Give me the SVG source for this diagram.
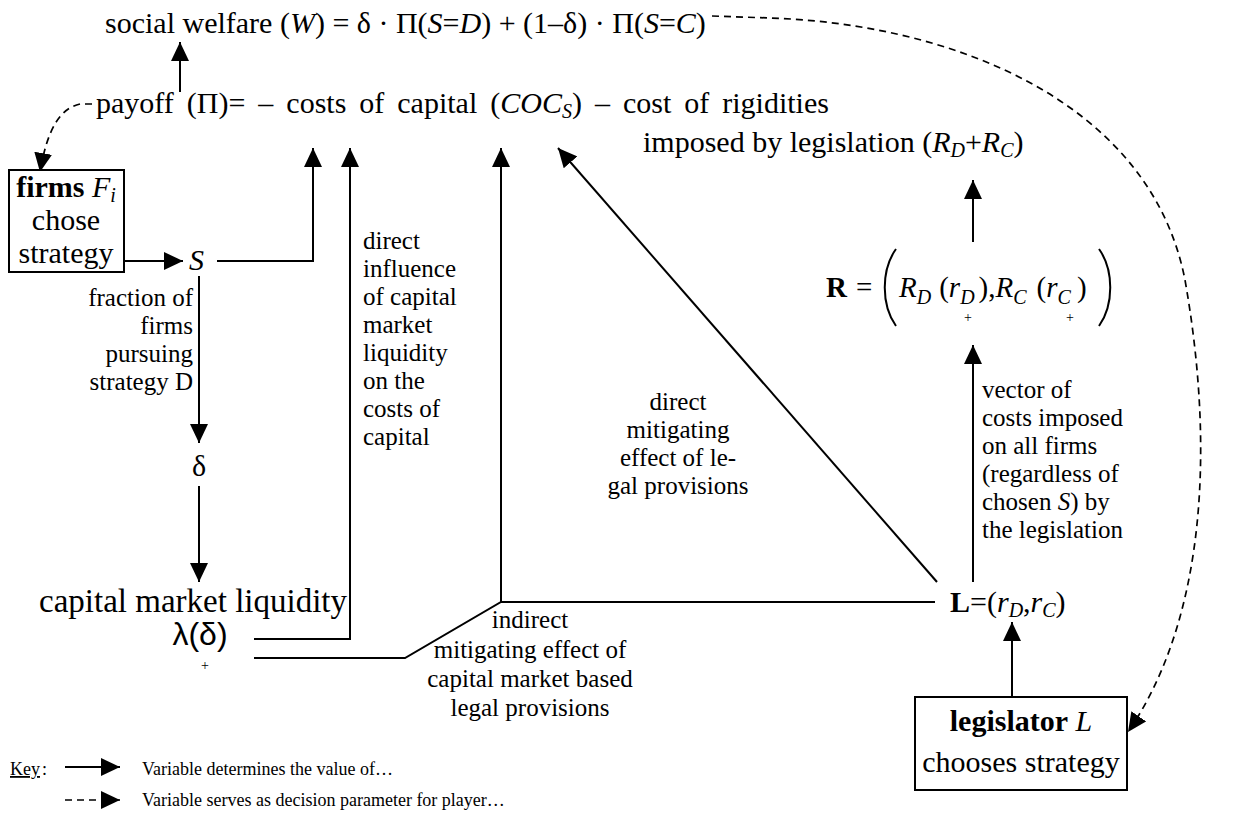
<svg xmlns="http://www.w3.org/2000/svg" width="1239" height="819" viewBox="0 0 1239 819">
<defs>
<marker id="ah" markerUnits="userSpaceOnUse" markerWidth="20" markerHeight="18" refX="19" refY="9" orient="auto"><path d="M0,0 L19,9 L0,18 z" fill="#000"/></marker>
<style>
text{font-family:"Liberation Serif","Times New Roman",serif;fill:#000}
.big{font-size:30px}
.mid{font-size:25px}
.sm{font-size:18px}
.sub{font-size:20px}
.i{font-style:italic}
.b{font-weight:bold}
.ln{stroke:#000;stroke-width:2;fill:none}
.ar{stroke:#000;stroke-width:2;fill:none;marker-end:url(#ah)}
.da{stroke:#000;stroke-width:1.7;fill:none;stroke-dasharray:7,5;marker-end:url(#ah)}
.box{fill:#fff;stroke:#000;stroke-width:2}
</style>
</defs>
<rect width="1239" height="819" fill="#fff"/>

<g id="connectors">
<line class="ar" x1="180" y1="92" x2="180" y2="42"/>
<path class="da" d="M712,16 L770,18 C950,24 1150,100 1185,280 C1215,450 1205,620 1128,732"/>
<path class="da" d="M92,104 L80,104 C62,108 48,125 40,172"/>
<line class="ar" x1="124" y1="261" x2="183" y2="261"/>
<path class="ar" d="M217,261 L313,261 L313,148"/>
<line class="ar" x1="199" y1="276" x2="199" y2="443"/>
<line class="ar" x1="199" y1="486" x2="199" y2="582"/>
<path class="ar" d="M254,639 L350,639 L350,148"/>
<path class="ln" d="M254,658 L405,658 L501,602 L935,602"/>
<line class="ar" x1="501" y1="602" x2="501" y2="148"/>
<line class="ar" x1="937" y1="582" x2="558" y2="148"/>
<line class="ar" x1="973" y1="582" x2="973" y2="345"/>
<line class="ar" x1="973" y1="242" x2="973" y2="180"/>
<line class="ar" x1="1012" y1="697" x2="1012" y2="622"/>
</g>

<g id="welfare">
<text class="big" x="105" y="33">social welfare (<tspan class="i">W</tspan>) = δ · Π(<tspan class="i">S</tspan>=<tspan class="i">D</tspan>) + (1–δ) · Π(<tspan class="i">S</tspan>=<tspan class="i">C</tspan>)</text>
</g>

<g id="payoff">
<text class="big" x="96" y="113" word-spacing="5.5">payoff (Π)= – costs of capital (<tspan class="i">COC<tspan class="sub" dy="5">S</tspan></tspan><tspan dy="-5">) – cost of rigidities</tspan></text>
<text class="big" x="643" y="152">imposed by legislation (<tspan class="i">R<tspan class="sub" dy="5">D</tspan></tspan><tspan dy="-5">+</tspan><tspan class="i">R<tspan class="sub" dy="5">C</tspan></tspan><tspan dy="-5">)</tspan></text>
</g>

<g id="firms">
<rect class="box" x="9" y="170" width="115" height="102"/>
<text class="big" x="66" y="197" text-anchor="middle"><tspan class="b">firms</tspan> <tspan class="i">F<tspan class="sub" dy="5">i</tspan></tspan></text>
<text class="big" x="66" y="230" text-anchor="middle">chose</text>
<text class="big" x="66" y="263" text-anchor="middle">strategy</text>
</g>

<g id="S"><text class="big i" x="189" y="270">S</text></g>

<g id="fraction-label">
<text class="mid" x="193" y="306" text-anchor="end">fraction of</text>
<text class="mid" x="193" y="334" text-anchor="end">firms</text>
<text class="mid" x="193" y="362" text-anchor="end">pursuing</text>
<text class="mid" x="193" y="390" text-anchor="end">strategy D</text>
</g>

<g id="delta"><text class="big" x="199" y="476" text-anchor="middle">δ</text></g>

<g id="liquidity">
<text x="347" y="612" text-anchor="end" style="font-size:33px">capital market liquidity</text>
<text x="200" y="645" text-anchor="middle" style="font-size:32px;font-family:'Liberation Sans','DejaVu Sans',sans-serif">λ(δ)</text>
<text x="205" y="670" text-anchor="middle" style="font-size:14px">+</text>
</g>

<g id="direct-influence-label">
<text class="mid" x="363" y="249">direct</text>
<text class="mid" x="363" y="277">influence</text>
<text class="mid" x="363" y="305">of capital</text>
<text class="mid" x="363" y="333">market</text>
<text class="mid" x="363" y="361">liquidity</text>
<text class="mid" x="363" y="389">on the</text>
<text class="mid" x="363" y="417">costs of</text>
<text class="mid" x="363" y="445">capital</text>
</g>

<g id="indirect-label">
<text class="mid" x="530" y="628" text-anchor="middle">indirect</text>
<text class="mid" x="530" y="658" text-anchor="middle">mitigating effect of</text>
<text class="mid" x="530" y="687" text-anchor="middle">capital market based</text>
<text class="mid" x="530" y="716" text-anchor="middle">legal provisions</text>
</g>

<g id="direct-mitigating-label">
<text class="mid" x="678" y="410" text-anchor="middle">direct</text>
<text class="mid" x="678" y="438" text-anchor="middle">mitigating</text>
<text class="mid" x="678" y="466" text-anchor="middle">effect of le-</text>
<text class="mid" x="678" y="494" text-anchor="middle">gal provisions</text>
</g>

<g id="L">
<text class="big" x="950" y="612"><tspan class="b">L</tspan>=(<tspan class="i">r<tspan class="sub" dy="5">D</tspan></tspan><tspan dy="-5">,</tspan><tspan class="i">r<tspan class="sub" dy="5">C</tspan></tspan><tspan dy="-5">)</tspan></text>
</g>

<g id="vector-label">
<text class="mid" x="982" y="398">vector of</text>
<text class="mid" x="982" y="426">costs imposed</text>
<text class="mid" x="982" y="454">on all firms</text>
<text class="mid" x="982" y="482">(regardless of</text>
<text class="mid" x="982" y="510">chosen <tspan class="i">S</tspan>) by</text>
<text class="mid" x="982" y="538">the legislation</text>
</g>

<g id="R">
<text class="b" x="826" y="297" style="font-size:29px">R</text>
<text x="856" y="297" style="font-size:29px">=</text>
<path d="M896,249 C881,270 881,305 896,326" class="ln" stroke-width="1.5"/>
<text x="899" y="297" style="font-size:29px"><tspan class="i">R</tspan><tspan class="i" dy="7" style="font-size:20px">D</tspan><tspan dy="-7" dx="8">(</tspan><tspan class="i">r</tspan><tspan class="i" dy="7" style="font-size:20px">D</tspan><tspan dy="-7" dx="4">),</tspan><tspan class="i">R</tspan><tspan class="i" dy="7" style="font-size:20px">C</tspan><tspan dy="-7" dx="10">(</tspan><tspan class="i">r</tspan><tspan class="i" dy="7" style="font-size:20px">C</tspan><tspan dy="-7" dx="6">)</tspan></text>
<path d="M1099,249 C1114,270 1114,305 1099,326" class="ln" stroke-width="1.5"/>
<text x="968" y="322" text-anchor="middle" style="font-size:14px">+</text>
<text x="1070" y="322" text-anchor="middle" style="font-size:14px">+</text>
</g>

<g id="legislator">
<rect class="box" x="915" y="697" width="212" height="93"/>
<text class="big" x="1021" y="731" text-anchor="middle"><tspan class="b">legislator</tspan> <tspan class="i">L</tspan></text>
<text class="big" x="1021" y="772" text-anchor="middle">chooses strategy</text>
</g>

<g id="key">
<text class="sm" x="10" y="775" text-decoration="underline">Key</text><text class="sm" x="42" y="775">:</text>
<line class="ar" x1="65" y1="767" x2="120" y2="767"/>
<text class="sm" x="142" y="775">Variable determines the value of…</text>
<line class="da" x1="65" y1="800" x2="120" y2="800"/>
<text class="sm" x="142" y="806">Variable serves as decision parameter for player…</text>
</g>
</svg>
